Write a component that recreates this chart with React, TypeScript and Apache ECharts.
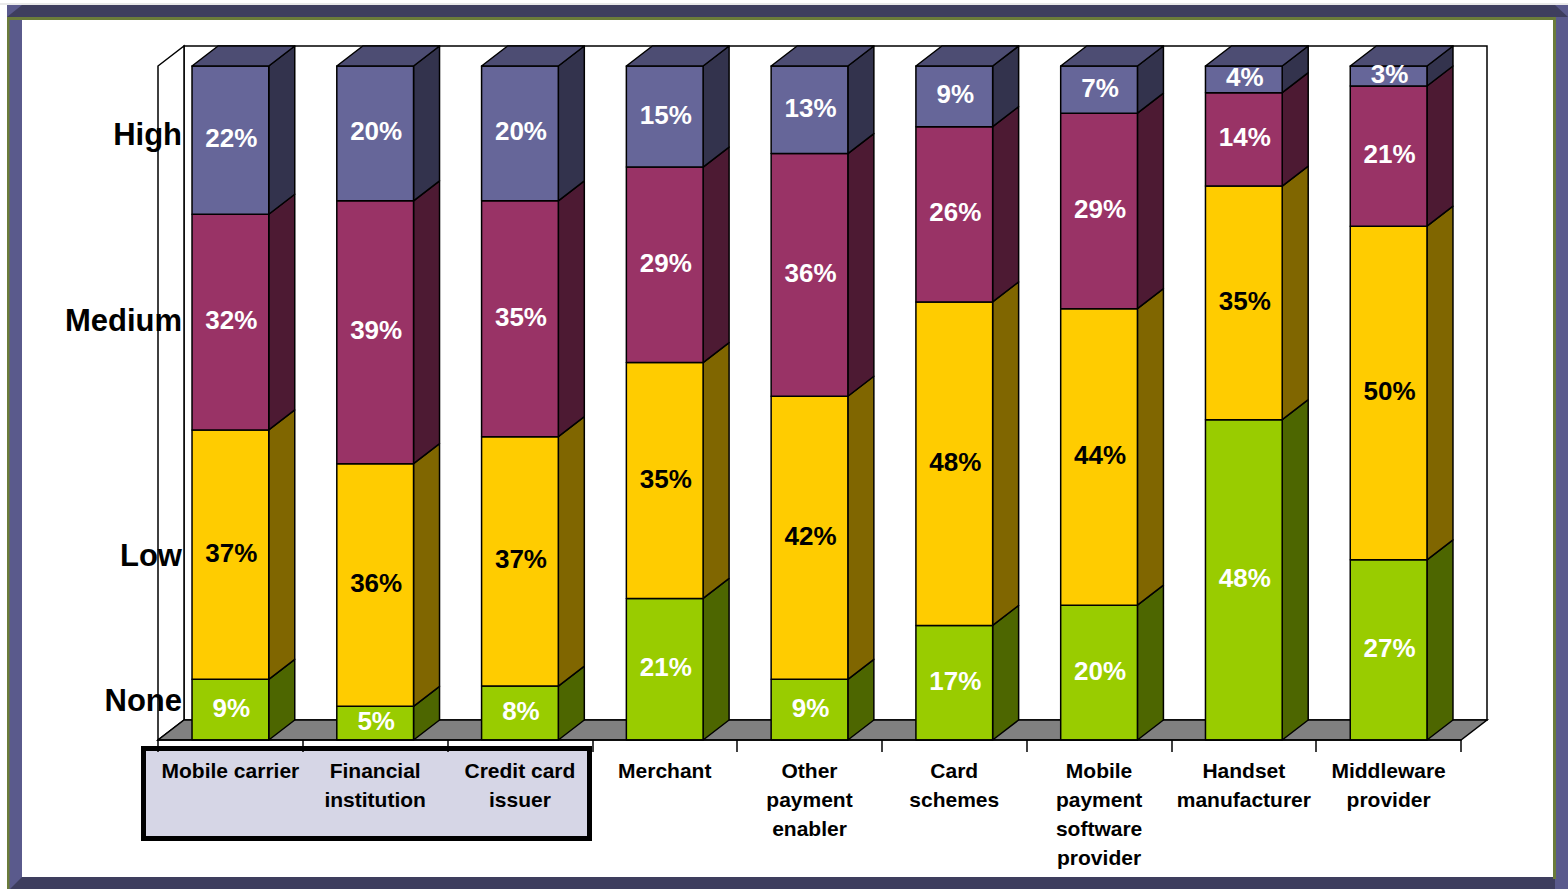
import React, { useEffect, useRef } from "react";
import * as echarts from "echarts";

const categories = [
  "Mobile carrier",
  "Financial\ninstitution",
  "Credit card\nissuer",
  "Merchant",
  "Other\npayment\nenabler",
  "Card\nschemes",
  "Mobile\npayment\nsoftware\nprovider",
  "Handset\nmanufacturer",
  "Middleware\nprovider",
];
const levels = ["None", "Low", "Medium", "High"];
const noneVals = [9, 5, 8, 21, 9, 17, 20, 48, 27];
const lowVals = [37, 36, 37, 35, 42, 48, 44, 35, 50];
const mediumVals = [32, 39, 35, 29, 36, 26, 29, 14, 21];
const highVals = [22, 20, 20, 15, 13, 9, 7, 4, 3];
const levelLabelAt = [5.8, 27.4, 62.3, 89.8];

const FONT = "'Liberation Sans', Arial, Helvetica, sans-serif";
const DX = 26;
const DY = 20;
const frontColors = ["#99cc00", "#ffcc00", "#993366", "#666699"];
const sideColors = ["#4d6600", "#806600", "#4d1a33", "#33334d"];
const topColors = ["#739900", "#bf9900", "#732650", "#4d4d73"];
const labelColors = ["#ffffff", "#000000", "#ffffff", "#ffffff"];

export default function App() {
  const ref = useRef<HTMLDivElement>(null);
  useEffect(() => {
    if (!ref.current) return;
    const chart = echarts.init(ref.current, undefined, { renderer: "svg" });
    const all = [noneVals, lowVals, mediumVals, highVals];
    const totals = categories.map((_, i) => all.reduce((s, a) => s + a[i], 0));
    const stacked = all.map((arr, li) =>
      arr.map((v, i) => {
        let start = 0;
        for (let k = 0; k < li; k++) start += all[k][i];
        return [i, (start / totals[i]) * 100, ((start + v) / totals[i]) * 100, v];
      })
    );

    const barSeries = levels.map((name, li) => ({
      type: "custom",
      name,
      data: stacked[li],
      encode: { x: 0, y: [1, 2] },
      renderItem: (params: any, api: any) => {
        const ci = api.value(0);
        const s = api.value(1);
        const e = api.value(2);
        const v = api.value(3);
        const pb = api.coord([ci, s]);
        const pt = api.coord([ci, e]);
        const cw = api.size([1, 0])[0];
        const w = cw * 0.53;
        const x0 = pb[0] - w / 2;
        const x1 = pb[0] + w / 2;
        const yb = pb[1];
        const yt = pt[1];
        const stroke = { stroke: "#000", lineWidth: 1.5, lineJoin: "round" };
        const children: any[] = [
          {
            type: "polygon",
            shape: { points: [[x1, yb], [x1 + DX, yb - DY], [x1 + DX, yt - DY], [x1, yt]] },
            style: { fill: sideColors[li], ...stroke },
          },
          {
            type: "rect",
            shape: { x: x0, y: yt, width: w, height: yb - yt },
            style: { fill: frontColors[li], ...stroke },
          },
        ];
        if (li === levels.length - 1) {
          children.push({
            type: "polygon",
            shape: { points: [[x0, yt], [x1, yt], [x1 + DX, yt - DY], [x0 + DX, yt - DY]] },
            style: { fill: topColors[li], ...stroke },
          });
        }
        children.push({
          type: "text",
          x: pb[0] + 1,
          y: (yb + yt) / 2 - 2,
          style: {
            text: v + "%",
            fill: labelColors[li],
            font: `bold 26px ${FONT}`,
            align: "center",
            verticalAlign: "middle",
            textAlign: "center",
            textVerticalAlign: "middle",
          },
        });
        return { type: "group", children };
      },
      z: 3,
    }));

    const wallSeries = {
      type: "custom",
      name: "walls",
      data: [[0, 0]],
      encode: { x: 0, y: 1 },
      silent: true,
      renderItem: (params: any) => {
        const cs = params.coordSys;
        const yb = cs.y + cs.height;
        const st = { stroke: "#000", lineWidth: 1.5 };
        return {
          type: "group",
          children: [
            {
              type: "rect",
              shape: { x: cs.x + DX, y: cs.y - DY, width: cs.width, height: cs.height },
              style: { fill: "#fff", ...st },
            },
            {
              type: "polygon",
              shape: { points: [[cs.x, cs.y], [cs.x + DX, cs.y - DY], [cs.x + DX, yb - DY], [cs.x, yb]] },
              style: { fill: "#fff", ...st },
            },
            {
              type: "polygon",
              shape: { points: [[cs.x, yb], [cs.x + cs.width, yb], [cs.x + cs.width + DX, yb - DY], [cs.x + DX, yb - DY]] },
              style: { fill: "#808080", ...st },
            },
          ],
        };
      },
      z: 2,
    };

    const levelSeries = {
      type: "custom",
      name: "levels",
      data: levelLabelAt.map((p) => [0, p]),
      encode: { x: 0, y: 1 },
      silent: true,
      renderItem: (params: any, api: any) => {
        const p = api.coord([0, api.value(1)]);
        const cw = api.size([1, 0])[0];
        return {
          type: "text",
          x: p[0] - cw / 2 + 24,
          y: p[1],
          style: {
            text: levels[params.dataIndex],
            fill: "#000",
            font: `bold 31px ${FONT}`,
            align: "right",
            verticalAlign: "middle",
            textAlign: "right",
            textVerticalAlign: "middle",
          },
        };
      },
      z: 4,
    };

    const navyDark = "#3e3e5e";
    const navyLight = "#5a5a8c";
    const olive = "#6b7c3a";

    chart.setOption({
      animation: false,
      backgroundColor: "#ffffff",
      grid: { left: 158, right: 107, top: 66, bottom: 149 },
      xAxis: {
        type: "category",
        data: categories,
        boundaryGap: true,
        axisLine: { show: true, lineStyle: { color: "#000", width: 1.5 } },
        axisTick: { show: true, length: 12, lineStyle: { color: "#000", width: 1.5 } },
        axisLabel: {
          interval: 0,
          hideOverlap: false,
          color: "#000",
          fontWeight: "bold",
          fontSize: 21,
          lineHeight: 29,
          fontFamily: FONT,
          margin: 16,
        },
        splitLine: { show: false },
        z: 5,
      },
      yAxis: { type: "value", min: 0, max: 100, show: false, splitLine: { show: false } },
      graphic: [
        { type: "rect", z: -20, shape: { x: 0, y: 3.5, width: 1568, height: 1 }, style: { fill: "#d4d4d4" } },
        { type: "rect", z: -20, shape: { x: 7, y: 5, width: 1561, height: 884 }, style: { fill: navyLight } },
        { type: "rect", z: -19, shape: { x: 22, y: 20, width: 1531, height: 857 }, style: { fill: "#ffffff" } },
        { type: "polygon", z: -18, shape: { points: [[7, 17], [22, 5], [1555, 5], [1568, 17]] }, style: { fill: navyDark } },
        { type: "polygon", z: -18, shape: { points: [[22, 877], [1555, 877], [1555, 889], [10, 889]] }, style: { fill: navyDark } },
        { type: "rect", z: -17, shape: { x: 7, y: 17, width: 1549, height: 3 }, style: { fill: olive } },
        { type: "rect", z: -17, shape: { x: 7, y: 17, width: 2.5, height: 872 }, style: { fill: olive } },
        { type: "rect", z: -17, shape: { x: 1553, y: 17, width: 3, height: 862 }, style: { fill: olive } },
        {
          type: "rect",
          z: -1,
          shape: { x: 143.5, y: 748.5, width: 446, height: 90 },
          style: { fill: "#d6d6e6", stroke: "#000", lineWidth: 5 },
        },
      ],
      series: [wallSeries, ...barSeries, levelSeries],
    });
    return () => chart.dispose();
  }, []);
  return (
    <div
      ref={ref}
      style={{ position: "absolute", left: 0, top: 0, width: 1568, height: 889 }}
    />
  );
}
